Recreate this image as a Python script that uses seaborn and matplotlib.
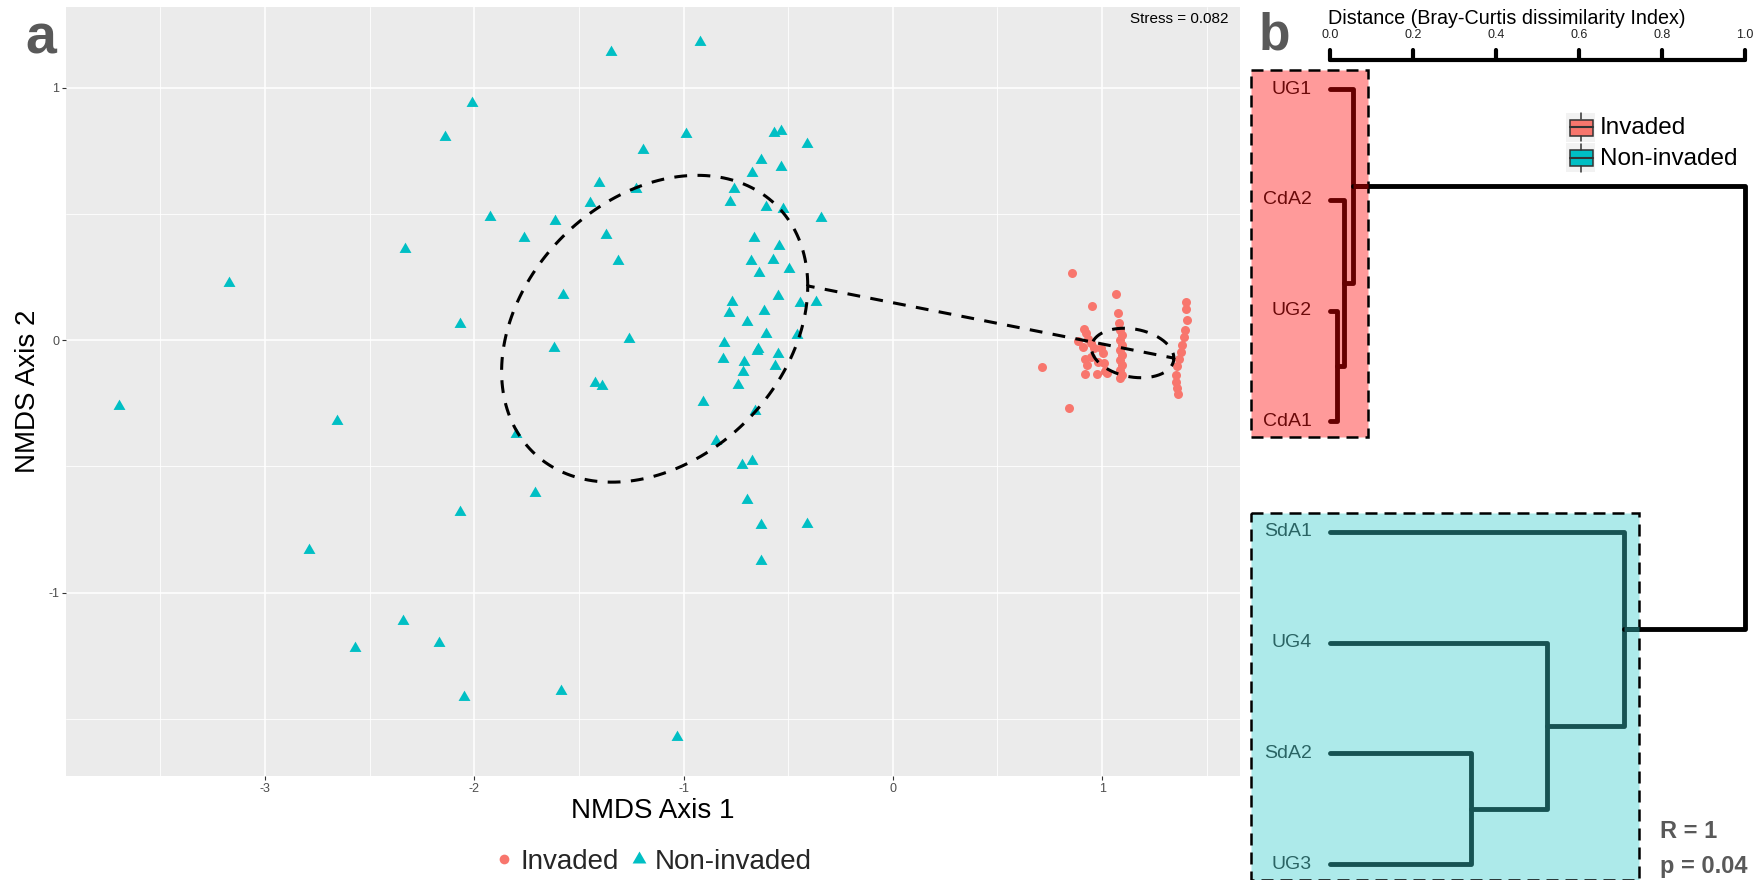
import numpy as np
import pandas as pd
import matplotlib
matplotlib.use("Agg")
import matplotlib.pyplot as plt
import seaborn as sns
from matplotlib.path import Path
from matplotlib.patches import Rectangle
from matplotlib.lines import Line2D

# ---------------- data: panel a (NMDS) ----------------
noninv_x = [-1.193, -0.632, -0.535, -0.675, -1.405, -1.225, -0.758, -1.448, -0.777, -0.607,
            -0.524, -1.925, -1.613, -0.345, -1.762, -1.371, -0.663, -0.543, -1.312, -0.678,
            -0.573, -0.639, -0.498, -1.575, -0.548, -0.768, -0.444, -0.365, -0.784, -0.616,
            -0.699, -0.607, -0.460, -1.263, -0.807, -1.618, -0.643, -0.647, -0.548, -0.811,
            -0.710, -0.565, -0.715, -0.739, -1.421, -1.392, -0.909, -0.658, -1.803, -0.846,
            -0.720, -0.672, -1.710, -0.699,
            -3.697, -3.172, -1.349, -0.920, -2.013, -2.142, -0.989, -0.410, -0.566, -0.534,
            -2.330, -2.067, -2.657, -2.067, -0.630, -0.410, -2.791, -0.630, -2.340, -2.169,
            -2.571, -2.051, -1.584, -1.032]
noninv_y = [0.752, 0.713, 0.686, 0.662, 0.624, 0.600, 0.599, 0.541, 0.545, 0.528,
            0.521, 0.486, 0.472, 0.482, 0.406, 0.416, 0.406, 0.373, 0.313, 0.314,
            0.317, 0.264, 0.280, 0.178, 0.174, 0.152, 0.148, 0.152, 0.108, 0.116,
            0.073, 0.026, 0.020, 0.003, -0.013, -0.033, -0.036, -0.044, -0.055, -0.075,
            -0.086, -0.103, -0.128, -0.178, -0.168, -0.182, -0.247, -0.280, -0.370, -0.400,
            -0.494, -0.478, -0.604, -0.633,
            -0.262, 0.227, 1.142, 1.182, 0.938, 0.804, 0.818, 0.778, 0.822, 0.827,
            0.360, 0.062, -0.320, -0.680, -0.733, -0.729, -0.831, -0.876, -1.111, -1.200,
            -1.218, -1.413, -1.391, -1.573]

inv_x = [0.857, 1.065, 0.954, 1.077, 1.081, 0.713, 0.841,
         0.913, 0.922, 0.885, 0.933, 0.949, 0.910, 0.960, 0.997, 0.918, 0.949,
         1.005, 0.981, 1.008, 0.926, 1.013, 0.918, 0.974, 1.024,
         1.085, 1.097, 1.085, 1.097, 1.085, 1.097, 1.085, 1.097, 1.085, 1.097, 1.085,
         1.400, 1.403, 1.406, 1.395, 1.390, 1.384, 1.376, 1.368, 1.360, 1.355, 1.355,
         1.358, 1.365]
inv_y = [0.264, 0.181, 0.135, 0.106, 0.069, -0.108, -0.267,
         0.044, 0.027, -0.002, 0.003, -0.013, -0.026, -0.033, -0.033, -0.073, -0.066,
         -0.053, -0.086, -0.092, -0.099, -0.121, -0.135, -0.135, -0.129,
         0.040, 0.020, 0.000, -0.020, -0.040, -0.059, -0.079, -0.099, -0.119, -0.139, -0.152,
         0.152, 0.125, 0.079, 0.040, 0.011, -0.020, -0.046, -0.073, -0.103, -0.139, -0.165,
         -0.191, -0.214]

# group dispersion ellipses (centre, covariance)
noninv_centre = [-1.138, 0.045]
noninv_cov = [[0.535, 0.124], [0.124, 0.369]]
inv_centre = [1.146, -0.051]
inv_cov = [[0.0388, -0.004], [-0.004, 0.0096]]

stress = 0.082
x_ticks = [-3, -2, -1, 0, 1]
y_ticks = [-1, 0, 1]

# ---------------- data: panel b (dendrogram) ----------------
leaf_labels = ["UG1", "CdA2", "UG2", "CdA1", "SdA1", "UG4", "SdA2", "UG3"]
leaf_groups = ["Invaded"] * 4 + ["Non-invaded"] * 4
merge_a = ["UG2", "CdA2", "UG1", "SdA2", "UG4", "SdA1", "m3"]
merge_b = ["CdA1", "m1", "m2", "UG3", "m4", "m5", "m6"]
merge_h = [0.016, 0.034, 0.056, 0.340, 0.522, 0.709, 1.0]
dist_ticks = [0.0, 0.2, 0.4, 0.6, 0.8, 1.0]
anosim_R = "1"
anosim_p = "0.04"

# ---------------- style ----------------
W, H = 1761, 880
sns.set_theme(style="white")
plt.rcParams["font.family"] = ["Liberation Sans", "DejaVu Sans"]

col_inv = "#F8766D"
col_non = "#00BFC4"

def fx(px):
    return px / W

def fy(py):
    return 1 - py / H

fig = plt.figure(figsize=(W / 100, H / 100), dpi=100)

# ---------------- panel a ----------------
ax = fig.add_axes([fx(66), fy(776), fx(1240) - fx(66), fy(7) - fy(776)])
ax.set_facecolor("#EBEBEB")

df_non = pd.DataFrame({"x": noninv_x, "y": noninv_y, "grp": "Non-invaded"})
df_inv = pd.DataFrame({"x": inv_x, "y": inv_y, "grp": "Invaded"})

tri = Path([(0, 1), (-0.866, -0.5), (0.866, -0.5), (0, 1)],
           [Path.MOVETO, Path.LINETO, Path.LINETO, Path.CLOSEPOLY])

sns.scatterplot(data=df_non, x="x", y="y", marker=tri, s=98, color=col_non,
                linewidth=0, ax=ax, legend=False, zorder=3)
sns.scatterplot(data=df_inv, x="x", y="y", marker="o", s=42, color=col_inv,
                linewidth=0, ax=ax, legend=False, zorder=3)

# ellipses as one continuous path (as drawn in the reference)
t = np.linspace(0, 2 * np.pi, 200)
circ = np.column_stack([np.cos(t), np.sin(t)])
paths = []
for c, cv in [(noninv_centre, noninv_cov), (inv_centre, inv_cov)]:
    R = np.linalg.cholesky(np.array(cv)).T
    paths.append(np.array(c) + circ @ R)
ell = np.vstack(paths)
ax.plot(ell[:, 0], ell[:, 1], color="black", lw=2.2, ls=(0, (4.2, 3.4)), zorder=4)

ax.set_xlim(-3.951, 1.659)
ax.set_ylim(-1.726, 1.319)
ax.set_xticks(x_ticks)
ax.set_yticks(y_ticks)
ax.set_xticklabels([str(v) for v in x_ticks])
ax.set_yticklabels([str(v) for v in y_ticks])
ax.set_xticks(np.arange(-3.5, 1.6, 1.0), minor=True)
ax.set_yticks(np.arange(-1.5, 1.0, 1.0), minor=True)
ax.grid(which="major", color="white", lw=1.1)
ax.grid(which="minor", color="white", lw=0.6)
ax.set_axisbelow(True)
for s in ax.spines.values():
    s.set_visible(False)
ax.tick_params(which="major", length=3, width=0.8, color="#333333",
               labelsize=9, labelcolor="#4D4D4D", pad=2, bottom=True, left=True)
ax.tick_params(which="minor", length=0)
ax.set_xlabel("NMDS Axis 1", fontsize=20, color="black")
ax.set_ylabel("NMDS Axis 2", fontsize=20, color="black")
ax.xaxis.set_label_coords(0.5, -0.029)
ax.yaxis.set_label_coords(-0.0215, 0.5)
ax.text(0.9906, 0.994, f"Stress = {stress}", transform=ax.transAxes,
        ha="right", va="top", fontsize=11, color="black")

handles = [Line2D([], [], marker="o", ls="", color=col_inv, markersize=7, markeredgewidth=0),
           Line2D([], [], marker=tri, ls="", color=col_non, markersize=11.5, markeredgewidth=0)]
leg = fig.legend(handles, ["Invaded", "Non-invaded"], loc="center",
                 bbox_to_anchor=(fx(652), fy(862)), ncol=2, frameon=False, fontsize=20,
                 handlelength=0.85, handletextpad=0.15, columnspacing=0.3, borderpad=0)

fig.text(fx(25), fy(53), "a", fontsize=40, fontweight="bold", color="#595959",
         ha="left", va="baseline")
fig.text(fx(1259), fy(50), "b", fontsize=37, fontweight="bold", color="#595959",
         ha="left", va="baseline")

# ---------------- panel b ----------------
bx = fig.add_axes([fx(1250), 0, 1 - fx(1250), 1])
x0px, x1px = 1330, 1745
y0px, dy = 89, 110.75
bx.set_xlim((1250 - x0px) / (x1px - x0px), (W - x0px) / (x1px - x0px))
bx.set_ylim((H - y0px) / dy, (0 - y0px) / dy)
bx.axis("off")

grp_fill = {"Invaded": "#FF9A9A", "Non-invaded": "#ADEAEA"}
grp_line = {"Invaded": "#660000", "Non-invaded": "#175353"}
grp_text = {"Invaded": "#6B0A0A", "Non-invaded": "#2A6464"}

node_y = {lab: i for i, lab in enumerate(leaf_labels)}
node_h = {lab: 0.0 for lab in leaf_labels}
node_g = {lab: g for lab, g in zip(leaf_labels, leaf_groups)}
segments = []
for k, (a, b, h) in enumerate(zip(merge_a, merge_b, merge_h)):
    name = f"m{k + 1}"
    node_y[name] = (node_y[a] + node_y[b]) / 2
    node_h[name] = h
    node_g[name] = node_g[a] if node_g[a] == node_g[b] else None
    segments.append((a, b, name))

# cluster boxes
box_right = {}
for g in grp_fill:
    idx = [i for i, gg in enumerate(leaf_groups) if gg == g]
    top_h = max(node_h[n] for n in node_h if node_g[n] == g)
    box_right[g] = top_h + 0.036
    left = -0.19
    bx.add_patch(Rectangle((left, min(idx) - 0.17), box_right[g] - left,
                           (max(idx) + 0.14) - (min(idx) - 0.17),
                           facecolor=grp_fill[g], edgecolor="black", lw=1.8,
                           ls=(0, (4.8, 2.8)), zorder=1, clip_on=False))

lw_d = 3.5
for a, b, name in segments:
    g = node_g[name]
    h = node_h[name]
    xs = [node_h[a], h, h, node_h[b]]
    ys = [node_y[a], node_y[a], node_y[b], node_y[b]]
    if g is not None:
        bx.plot(xs, ys, color=grp_line[g], lw=lw_d, solid_capstyle="round",
                solid_joinstyle="round", zorder=3, clip_on=False)
    else:
        bx.plot(xs, ys, color="black", lw=lw_d, solid_capstyle="round",
                solid_joinstyle="round", zorder=3, clip_on=False)
        for c in (a, b):
            cg = node_g[c]
            bx.plot([node_h[c], box_right[cg]], [node_y[c], node_y[c]],
                    color=grp_line[cg], lw=lw_d, solid_capstyle="butt", zorder=4)

for i, (lab, g) in enumerate(zip(leaf_labels, leaf_groups)):
    bx.text(-0.044, i, lab, ha="right", va="center", fontsize=14,
            color=grp_text[g], zorder=5)

# distance axis at top
ay = (59.5 - y0px) / dy
bx.plot([dist_ticks[0], dist_ticks[-1]], [ay, ay], color="black", lw=3.0,
        solid_capstyle="round", clip_on=False, zorder=5)
for v in dist_ticks:
    bx.plot([v, v], [ay, (50 - y0px) / dy], color="black", lw=3.0,
            solid_capstyle="round", clip_on=False, zorder=5)
    bx.text(v, (35 - y0px) / dy, f"{v:.1f}", ha="center", va="center",
            fontsize=9, color="#222222")
bx.text(-0.005, (18 - y0px) / dy, "Distance (Bray-Curtis dissimilarity Index)",
        ha="left", va="center", fontsize=14.2, color="black")

# legend of panel b (boxplot keys)
for j, g in enumerate(["Invaded", "Non-invaded"]):
    top = 113 + 30.5 * j
    fig.patches.append(Rectangle((fx(1566), fy(top + 29)), fx(29), 29 / H,
                                 transform=fig.transFigure, facecolor="#F2F2F2",
                                 edgecolor="none", zorder=5))
    col = col_inv if g == "Invaded" else col_non
    fig.patches.append(Rectangle((fx(1569.5), fy(top + 22.5)), fx(23), 16 / H,
                                 transform=fig.transFigure, facecolor=col,
                                 edgecolor="#333333", lw=1.1, zorder=6))
    fig.lines.append(Line2D([fx(1569.5), fx(1592.5)], [fy(top + 14.5)] * 2,
                            transform=fig.transFigure, color="#333333", lw=1.5, zorder=7))
    fig.lines.append(Line2D([fx(1581)] * 2, [fy(top + 0.5), fy(top + 6.5)],
                            transform=fig.transFigure, color="#333333", lw=1.1, zorder=7))
    fig.lines.append(Line2D([fx(1581)] * 2, [fy(top + 22.5), fy(top + 28.5)],
                            transform=fig.transFigure, color="#333333", lw=1.1, zorder=7))
    fig.text(fx(1600), fy(top + 15), g, ha="left", va="center", fontsize=17.5,
             color="black")

bx.text((1660 - x0px) / (x1px - x0px), (832 - y0px) / dy, f"R = {anosim_R}",
        ha="left", va="center", fontsize=17, fontweight="bold", color="#595959")
bx.text((1660 - x0px) / (x1px - x0px), (867 - y0px) / dy, f"p = {anosim_p}",
        ha="left", va="center", fontsize=17, fontweight="bold", color="#595959")

fig.savefig("out.png", dpi=100)
